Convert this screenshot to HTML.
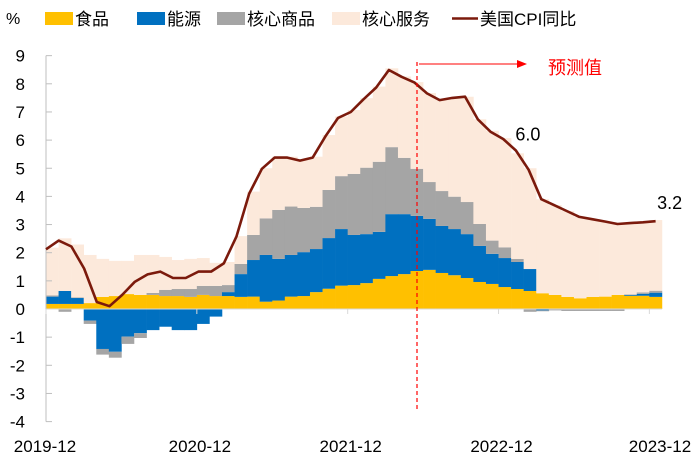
<!DOCTYPE html>
<html><head><meta charset="utf-8"><style>
body{margin:0;background:#fff;}
svg{display:block;font-family:"Liberation Sans","Noto Sans CJK SC",sans-serif;}
</style></head><body>
<svg id="chart" width="700" height="471"></svg>
<script>
const categories=[];for(let y=2019;y<=2023;y++){for(let m=1;m<=12;m++){if(y===2019&&m<12)continue;categories.push(y+'-'+(m<10?'0'+m:m));}}
const food=[0.18,0.18,0.18,0.21,0.43,0.46,0.53,0.5,0.5,0.46,0.46,0.43,0.5,0.46,0.46,0.43,0.44,0.26,0.3,0.44,0.46,0.6,0.72,0.83,0.85,0.92,1.07,1.17,1.24,1.35,1.39,1.28,1.2,1.1,0.96,0.89,0.78,0.71,0.64,0.56,0.5,0.43,0.38,0.43,0.44,0.5,0.47,0.47,0.43];
const energy=[0.26,0.46,0.21,-0.41,-1.42,-1.52,-0.98,-0.86,-0.75,-0.63,-0.75,-0.75,-0.53,-0.27,0.14,0.81,1.3,1.66,1.48,1.48,1.56,1.53,1.8,2.01,1.78,1.74,1.67,2.2,2.13,1.96,1.81,1.67,1.64,1.56,1.28,1.07,1.03,0.96,0.78,-0.05,0,0,0,0,0,0,0.03,0.07,0.15];
const coreGoods=[0.04,-0.1,0.02,-0.12,-0.2,-0.21,-0.26,-0.17,0.07,0.22,0.25,0.28,0.32,0.36,0.25,0.36,0.89,1.3,1.74,1.72,1.57,1.5,1.71,1.88,2.17,2.36,2.49,2.38,2.0,1.67,1.31,1.24,1.15,1.14,0.78,0.47,0.38,0.11,-0.1,-0.03,-0.05,-0.07,-0.07,-0.07,-0.07,-0.07,0.02,0.05,0.07];
const coreServices=[1.7,1.87,1.88,1.71,1.35,1.25,1.18,1.42,1.35,1.17,1.03,1.07,0.99,0.82,0.82,0.99,1.54,1.78,1.89,1.77,1.71,1.78,1.95,2.12,2.27,2.47,2.67,2.8,2.89,3.08,3.16,3.24,3.5,3.74,3.72,3.9,3.88,3.75,3.58,3.34,3.19,3.05,2.89,2.76,2.67,2.52,2.55,2.49,2.51];
const cpi=[2.12,2.43,2.22,1.44,0.25,0.1,0.5,0.97,1.23,1.33,1.1,1.1,1.33,1.33,1.62,2.58,4.1,4.98,5.38,5.38,5.27,5.38,6.13,6.79,7.0,7.45,7.87,8.49,8.25,8.05,7.66,7.42,7.5,7.54,6.74,6.3,6.04,5.63,4.95,3.9,3.69,3.48,3.27,3.19,3.11,3.02,3.05,3.08,3.12];
const yTicks=[-4,-3,-2,-1,0,1,2,3,4,5,6,7,8,9];
const xTickLabels=['2019-12','2020-12','2021-12','2022-12','2023-12'];
const annotations=[{i:37,t:'6.0'},{i:48,t:'3.2'}];

const NS='http://www.w3.org/2000/svg';
const svg=document.getElementById('chart');
function mk(tag,attrs,parent){const e=document.createElementNS(NS,tag);for(const k in attrs)e.setAttribute(k,attrs[k]);(parent||svg).appendChild(e);return e;}
const y0=309,ppu=28.15;
function yS(v){return y0-v*ppu;}
const bw=12.57;
function xBar(i){return 46+i*bw;}
function xLine(i){return 46+i*12.7;}
const colors={food:'#FFC000',energy:'#0070C0',goods:'#A5A5A5',services:'#FCE9DB'};

const bars=mk('g',{});


for(let i=0;i<categories.length;i++){
  let pos=0,neg=0;
  const series=[['food',food[i]],['energy',energy[i]],['goods',coreGoods[i]],['services',coreServices[i]]];
  for(const [k,v] of series){
    let top,bot;
    if(v>=0){bot=pos;top=pos+v;pos=top;}else{top=neg;bot=neg+v;neg=bot;}
    const r=mk('rect',{x:xBar(i),y:yS(top),width:bw+0.3,height:Math.max(0,yS(bot)-yS(top)),fill:colors[k]},bars);
    
    
  }
}
const ax=mk('g',{});


mk('line',{x1:46,y1:yS(9),x2:46,y2:yS(-4),stroke:'#BFBFBF','stroke-width':1},ax);
for(const t of yTicks){
  mk('line',{x1:46,y1:yS(t),x2:52,y2:yS(t),stroke:'#BFBFBF'},ax);
  const tx=mk('text',{x:25,y:yS(t)+6,'text-anchor':'end','font-size':17,fill:'#000'},ax);
  tx.textContent=t;
  
  
}
const xa=mk('line',{x1:46,y1:y0,x2:662,y2:y0,stroke:'#D9D9D9','stroke-width':1});


xTickLabels.forEach((l,k)=>{
  const i=k*12;
  mk('line',{x1:xBar(i),y1:y0,x2:xBar(i),y2:y0+5,stroke:'#D9D9D9'});
  const tx=mk('text',{x:k===0?45:(k===4?660:xBar(i)+3),y:452,'text-anchor':'middle','font-size':17,fill:'#000'});
  tx.textContent=l;
  
  
});
let d='';cpi.forEach((v,i)=>{d+=(i?'L':'M')+xLine(i).toFixed(1)+','+yS(v).toFixed(1);});
const ln=mk('path',{d:d,fill:'none',stroke:'#7B1A0C','stroke-width':2.6,'stroke-linejoin':'round'});


annotations.forEach(a=>{
  const tx=mk('text',{x:a.i===48?xLine(a.i)+14:xLine(a.i)+12,y:yS(cpi[a.i])-(a.i===48?12:10),'text-anchor':'middle','font-size':18,fill:'#000'});
  tx.textContent=a.t;
  
  
});
const dl=mk('line',{x1:417,y1:62,x2:417,y2:412,stroke:'#FF0000','stroke-width':1.2,'stroke-dasharray':'4,3'});


const ar=mk('line',{x1:419,y1:64,x2:518,y2:64,stroke:'#FF0000','stroke-width':1});


mk('polygon',{points:'517,60 527,64 517,68',fill:'#FF0000'});
const fl=mk('text',{x:548,y:74,'font-size':18,fill:'#FF0000'});
fl.textContent='预测值';


const pc=mk('text',{x:6,y:24,'font-size':16,fill:'#000'});
pc.textContent='%';


const lg=mk('g',{});


const items=[['box',colors.food,45,'食品'],['box',colors.energy,137,'能源'],['box',colors.goods,217,'核心商品'],['box',colors.services,332,'核心服务'],['line','#7B1A0C',452,'美国CPI同比']];
items.forEach(it=>{
  const g=mk('g',{},lg);
  
  
  let tx;
  if(it[0]==='box'){mk('rect',{x:it[2],y:12,width:28,height:13,fill:it[1]},g);tx=it[2]+30;}
  else{mk('line',{x1:it[2],y1:18.5,x2:it[2]+26,y2:18.5,stroke:it[1],'stroke-width':2.5},g);tx=it[2]+28;}
  const t=mk('text',{x:tx,y:25,'font-size':17,fill:'#000'},g);
  t.textContent=it[3];
});
</script>
</body></html>
